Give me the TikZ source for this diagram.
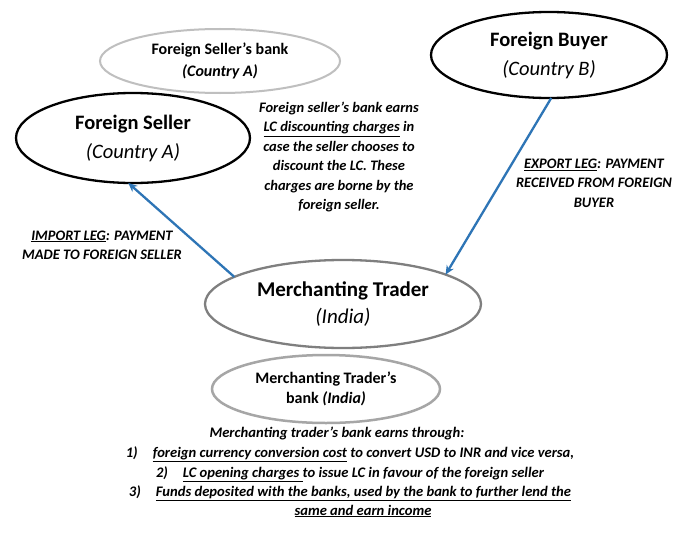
\documentclass[tikz,border=0pt]{standalone}
\usepackage{fontspec}
\setmainfont{Carlito}
\usetikzlibrary{shapes.geometric,arrows.meta}
\definecolor{arrowblue}{HTML}{2E75B6}
\definecolor{lightring}{HTML}{BFBFBF}
\definecolor{midring}{HTML}{A6A6A6}
\definecolor{darkring}{HTML}{7F7F7F}
\begin{document}
\begin{tikzpicture}[x=1pt,y=-1pt,
  ell/.style={ellipse, inner sep=0pt, outer sep=0pt, align=center},
  party/.style={ell, draw=black, line width=2.3pt, font=\fontsize{20.5}{29}\selectfont\bfseries},
  flow/.style={draw=arrowblue, line width=2.3pt, -{Stealth[length=9pt,width=8pt]}},
  note/.style={font=\fontsize{14.5}{19.4}\selectfont\bfseries\itshape, align=center, inner sep=0pt},
  bottomline/.style={font=\fontsize{14.6}{19.5}\selectfont\bfseries\itshape, inner sep=0pt, anchor=base}]
\useasboundingbox[fill=white] (0,0) rectangle (690,535);

\node[ell, draw=lightring, line width=2pt, minimum width=240pt, minimum height=64pt,
      font=\fontsize{16}{22}\selectfont\bfseries] (fsb) at (220,61)
      {Foreign Seller’s bank\\{\itshape (Country A)}};
\node[party, minimum width=234pt, minimum height=90pt] (fs) at (133,138)
      {Foreign Seller\\{\mdseries\itshape (Country A)}};
\node[party, minimum width=236pt, minimum height=86pt] (fb) at (549,55)
      {Foreign Buyer\\{\mdseries\itshape (Country B)}};
\node[ell, draw=darkring, line width=2.3pt, minimum width=276pt, minimum height=88pt,
      font=\fontsize{21}{27}\selectfont\bfseries] (mt) at (343,304)
      {Merchanting Trader\\{\mdseries\itshape (India)}};
\node[ell, draw=midring, line width=2.5pt, minimum width=228pt, minimum height=68pt,
      font=\fontsize{16}{20}\selectfont\bfseries] (mtb) at (326,389)
      {Merchanting Trader’s\\bank {\itshape (India)}};

\node[note] (bnote) at (339,157)
  {Foreign seller’s bank earns\\\underline{LC discounting charges} in\\case the seller chooses to\\discount the LC. These\\charges are borne by the\\foreign seller.};
\node[note] (enote) at (594,183)
  {\underline{EXPORT LEG}: PAYMENT\\RECEIVED FROM FOREIGN\\BUYER};
\node[note] (inote) at (102,245)
  {\underline{IMPORT LEG}: PAYMENT\\MADE TO FOREIGN SELLER};

\node[bottomline] (b0) at (337,437) {Merchanting trader’s bank earns through:};
\node[bottomline] (b1) at (350,457) {1)\hspace{15pt}\underline{foreign currency conversion cost} to convert USD to INR and vice versa,};
\node[bottomline] (b2) at (350,477) {2)\hspace{15pt}\underline{LC opening charges }to issue LC in favour of the foreign seller};
\node[bottomline] (b3) at (350,496) {3)\hspace{15pt}\underline{Funds deposited with the banks, used by the bank to further lend the}};
\node[bottomline] (b4) at (363,515) {\underline{same and earn income}};

\draw[flow] (mt.166) -- (fs.264);
\draw[flow] (fb.273) -- (mt.16);
\end{tikzpicture}
\end{document}
